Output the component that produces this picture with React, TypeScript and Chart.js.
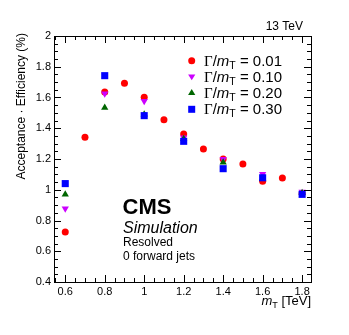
import React, { useEffect, useRef } from 'react';
import { Chart, registerables } from 'chart.js';

Chart.register(...registerables);

// ---- data ----
const massFine = [0.6, 0.7, 0.8, 0.9, 1.0, 1.1, 1.2, 1.3, 1.4, 1.5, 1.6, 1.7, 1.8];
const eff001 = [0.725, 1.341, 1.636, 1.692, 1.601, 1.456, 1.362, 1.265, 1.2, 1.167, 1.055, 1.076, 0.975];
const massCoarse = [0.6, 0.8, 1.0, 1.2, 1.4, 1.6, 1.8];
const eff010 = [0.877, 1.625, 1.577, 1.34, 1.2, 1.102, 0.987];
const eff020 = [0.97, 1.534, 1.49, 1.33, 1.178, 1.07, 0.98];
const eff030 = [1.04, 1.742, 1.482, 1.315, 1.137, 1.078, 0.97];
const widthLabels = ['0.01', '0.10', '0.20', '0.30'];
const xTickValues = [0.6, 0.8, 1.0, 1.2, 1.4, 1.6, 1.8];
const yTickValues = [0.4, 0.6, 0.8, 1.0, 1.2, 1.4, 1.6, 1.8, 2.0];

const SANS = '"Liberation Sans", Arial, Helvetica, sans-serif';
const SERIF = '"Liberation Serif", "Times New Roman", serif';

const colors = ['#ff0000', '#cc00ff', '#006600', '#0000ff'];

const fmt = (v: number) => (Math.abs(v - Math.round(v)) < 1e-9 ? String(Math.round(v)) : v.toFixed(1));

function drawMarker(ctx: CanvasRenderingContext2D, i: number, x: number, y: number) {
  ctx.fillStyle = colors[i];
  ctx.beginPath();
  if (i === 0) {
    ctx.arc(x, y, 3.5, 0, Math.PI * 2);
  } else if (i === 1) {
    ctx.moveTo(x - 3.6, y - 2.2);
    ctx.lineTo(x + 3.6, y - 2.2);
    ctx.lineTo(x, y + 3.6);
    ctx.closePath();
  } else if (i === 2) {
    ctx.moveTo(x - 3.6, y + 2.2);
    ctx.lineTo(x + 3.6, y + 2.2);
    ctx.lineTo(x, y - 3.6);
    ctx.closePath();
  } else {
    ctx.rect(x - 3.5, y - 3.5, 7, 7);
  }
  ctx.fill();
}

const decorPlugin = {
  id: 'decor',
  afterDraw(chart: any) {
    const ctx: CanvasRenderingContext2D = chart.ctx;
    const { left, right, top, bottom } = chart.chartArea;
    const xs = chart.scales.x;
    const ys = chart.scales.y;
    ctx.save();
    // frame
    ctx.strokeStyle = '#000';
    ctx.lineWidth = 1;
    ctx.strokeRect(Math.round(left) + 0.5, Math.round(top) + 0.5, Math.round(right - left), Math.round(bottom - top));
    // ticks
    ctx.beginPath();
    for (let i = 0; i <= 60; i++) {
      const v = Math.round(i * 5) / 100;
      const major = i % 4 === 0;
      const len = major ? 7 : 4;
      if (v >= xs.min && v <= xs.max) {
        const px = Math.round(xs.getPixelForValue(v)) + 0.5;
        ctx.moveTo(px, bottom);
        ctx.lineTo(px, bottom - len);
        ctx.moveTo(px, top);
        ctx.lineTo(px, top + len);
      }
      if (v >= ys.min && v <= ys.max) {
        const py = Math.round(ys.getPixelForValue(v)) + 0.5;
        ctx.moveTo(left, py);
        ctx.lineTo(left + len, py);
        ctx.moveTo(right, py);
        ctx.lineTo(right - len, py);
      }
    }
    ctx.stroke();

    ctx.fillStyle = '#000';
    // 13 TeV
    ctx.font = `12px ${SANS}`;
    ctx.textAlign = 'right';
    ctx.textBaseline = 'alphabetic';
    ctx.fillText('13 TeV', 303, 29.5);

    // y title
    ctx.save();
    ctx.translate(25, 33);
    ctx.rotate(-Math.PI / 2);
    ctx.textAlign = 'right';
    ctx.textBaseline = 'alphabetic';
    ctx.font = `12px ${SANS}`;
    ctx.fillText('Acceptance \u00b7 Efficiency (%)', 0, 0);
    ctx.restore();

    // x title: m_T [TeV], right aligned to frame
    ctx.textAlign = 'left';
    const fM = `italic 13px ${SANS}`;
    const fSub = `9px ${SANS}`;
    const fN = `13px ${SANS}`;
    ctx.font = fM; const wM = ctx.measureText('m').width;
    ctx.font = fSub; const wT = ctx.measureText('T').width;
    ctx.font = fN; const wR = ctx.measureText(' [TeV]').width;
    let xx = right - (wM + wT + wR);
    const by = 305;
    ctx.font = fM; ctx.fillText('m', xx, by); xx += wM;
    ctx.font = fSub; ctx.fillText('T', xx, by + 3); xx += wT;
    ctx.font = fN; ctx.fillText(' [TeV]', xx, by);

    // legend
    const rowY = [60.7, 76.7, 92.7, 109.3];
    widthLabels.forEach((lab, i) => {
      drawMarker(ctx, i, 191.7, rowY[i]);
      let tx = 204;
      const ty = rowY[i] + 4.8;
      ctx.fillStyle = '#000';
      ctx.font = `15px ${SERIF}`;
      ctx.fillText('\u0393', tx, ty); tx += ctx.measureText('\u0393').width;
      ctx.font = `15px ${SANS}`;
      ctx.fillText('/', tx, ty); tx += ctx.measureText('/').width;
      ctx.font = `italic 15px ${SANS}`;
      ctx.fillText('m', tx, ty); tx += ctx.measureText('m').width;
      ctx.font = `10.5px ${SANS}`;
      ctx.fillText('T', tx, ty + 3); tx += ctx.measureText('T').width;
      ctx.font = `15px ${SANS}`;
      ctx.fillText(' = ' + lab, tx, ty);
    });

    // CMS label
    ctx.fillStyle = '#000';
    ctx.font = `bold 22px ${SANS}`;
    ctx.fillText('CMS', 122.5, 213.5);
    ctx.font = `italic 16px ${SANS}`;
    ctx.fillText('Simulation', 123, 232.5);
    ctx.font = `12px ${SANS}`;
    ctx.fillText('Resolved', 123, 246);
    ctx.fillText('0 forward jets', 123, 260);
    ctx.restore();
  },
};

export default function App() {
  const ref = useRef<HTMLCanvasElement>(null);
  useEffect(() => {
    const canvas = ref.current;
    if (!canvas) return;
    const mk = (xsArr: number[], ysArr: number[]) => xsArr.map((x, i) => ({ x, y: ysArr[i] }));
    const chart = new Chart(canvas, {
      type: 'scatter',
      data: {
        datasets: [
          {
            label: '0.01', data: mk(massFine, eff001), order: 3,
            pointStyle: 'circle', radius: 3.5, backgroundColor: colors[0], borderColor: colors[0], borderWidth: 0,
          },
          {
            label: '0.10', data: mk(massCoarse, eff010), order: 2,
            pointStyle: 'triangle', rotation: 180, radius: 4.2, backgroundColor: colors[1], borderColor: colors[1], borderWidth: 0,
          },
          {
            label: '0.20', data: mk(massCoarse, eff020), order: 1,
            pointStyle: 'triangle', radius: 4.2, backgroundColor: colors[2], borderColor: colors[2], borderWidth: 0,
          },
          {
            label: '0.30', data: mk(massCoarse, eff030), order: 0,
            pointStyle: 'rect', radius: 5, backgroundColor: colors[3], borderColor: colors[3], borderWidth: 0,
          },
        ],
      } as any,
      options: {
        responsive: false,
        animation: false,
        devicePixelRatio: 1,
        layout: { padding: { left: 0, top: 36, right: 38, bottom: 0 } },
        plugins: { legend: { display: false }, tooltip: { enabled: false } },
        scales: {
          x: {
            type: 'linear',
            min: 0.543,
            max: 1.845,
            grid: { display: false, drawTicks: false },
            border: { display: false },
            afterBuildTicks: (s: any) => { s.ticks = xTickValues.map((v) => ({ value: v })); },
            afterFit: (s: any) => { s.height = 53; },
            ticks: {
              padding: 3,
              color: '#000',
              font: { family: SANS, size: 11 },
              callback: (v: any) => fmt(Number(v)),
              maxRotation: 0,
              autoSkip: false,
            },
          },
          y: {
            type: 'linear',
            min: 0.4,
            max: 2.0,
            grid: { display: false, drawTicks: false },
            border: { display: false },
            afterBuildTicks: (s: any) => { s.ticks = yTickValues.map((v) => ({ value: v })); },
            afterFit: (s: any) => { s.width = 54; },
            ticks: {
              padding: 3,
              color: '#000',
              font: { family: SANS, size: 11 },
              callback: (v: any) => fmt(Number(v)),
              autoSkip: false,
            },
          },
        },
      } as any,
      plugins: [decorPlugin],
    });
    return () => chart.destroy();
  }, []);
  return (
    <div style={{ position: 'absolute', left: 0, top: 0, width: 349, height: 335, background: '#fff' }}>
      <canvas ref={ref} width={349} height={335} style={{ width: 349, height: 335, display: 'block' }} />
    </div>
  );
}
